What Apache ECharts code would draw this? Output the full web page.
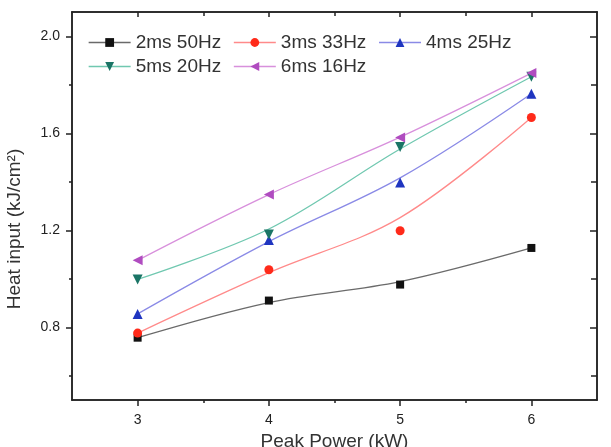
<!DOCTYPE html>
<html>
<head>
<meta charset="utf-8">
<script src="https://cdn.jsdelivr.net/npm/echarts@6/dist/echarts.min.js"></script>
<style>
  html, body { margin: 0; padding: 0; background: #fff; }
  #chart { width: 611px; height: 447px; }
</style>
</head>
<body>
<div id="chart"></div>
<script>
// data
var power = [3, 4, 5, 6];
var names = ['2ms 50Hz', '3ms 33Hz', '4ms 25Hz', '5ms 20Hz', '6ms 16Hz'];
// measured points (markers)
var heat2ms = [0.757, 0.910, 0.976, 1.127];
var heat3ms = [0.776, 1.037, 1.198, 1.665];
var heat4ms = [0.855, 1.160, 1.397, 1.763];
var heat5ms = [0.997, 1.182, 1.543, 1.833];
var heat6ms = [1.076, 1.347, 1.582, 1.848];
// fitted curves as drawn in the figure
var fit2ms = [0.757, 0.902, 0.988, 1.127];
var fit3ms = [0.776, 1.025, 1.252, 1.665];
var fit4ms = [0.855, 1.153, 1.416, 1.763];
var fit5ms = [0.997, 1.205, 1.535, 1.833];
var fit6ms = [1.076, 1.347, 1.584, 1.848];
// tick labels
var xMajor = [3, 4, 5, 6];
var xMinor = [3.5, 4.5, 5.5];
var yMajor = [0.8, 1.2, 1.6, 2.0];
var yMinor = [0.6, 1.0, 1.4, 1.8];

var markerColors = ['#111111', '#ff2a1a', '#1f35c0', '#1b7566', '#b04cc0'];
var lineColors = ['#6a6a6a', '#ff8a8a', '#8a8ae6', '#70c8b0', '#d890dc'];
var symbols = ['rect', 'circle', 'triangle', 'triangle', 'triangle'];
var rotates = [0, 0, 0, 180, 90];
var sizes = [8, 9, 10, 10, 10];
var heats = [heat2ms, heat3ms, heat4ms, heat5ms, heat6ms];
var fits = [fit2ms, fit3ms, fit4ms, fit5ms, fit6ms];

var font = "'Liberation Sans', Arial, sans-serif";
var chart = echarts.init(document.getElementById('chart'));

function pairs(ys) {
    return power.map(function (x, i) { return [x, ys[i]]; });
}

var series = [];
fits.forEach(function (f, i) {
    series.push({
        name: names[i] + ' fit',
        type: 'line',
        data: pairs(f),
        smooth: 0.35,
        symbol: 'none',
        silent: true,
        z: 1,
        xAxisIndex: 0, yAxisIndex: 0,
        lineStyle: { color: lineColors[i], width: 1.3 }
    });
});
heats.forEach(function (h, i) {
    series.push({
        name: names[i],
        type: 'line',
        data: pairs(h),
        symbol: symbols[i],
        symbolSize: sizes[i],
        symbolRotate: rotates[i],
        z: 3,
        xAxisIndex: 0, yAxisIndex: 0,
        itemStyle: { color: markerColors[i] },
        lineStyle: { color: lineColors[i], width: 1.3, opacity: 0 }
    });
});

function legendItems(list) {
    return list.map(function (i) {
        return { name: names[i], lineStyle: { color: lineColors[i], width: 1.3, opacity: 1 } };
    });
}

var legendBase = {
    left: 88,
    padding: 0,
    itemWidth: 42,
    itemHeight: 11,
    itemGap: 12,
    selectedMode: false,
    textStyle: { fontFamily: font, fontSize: 19, color: '#333', width: 87 }
};

var grid = { left: 72, right: 14, top: 12, bottom: 47, outerBoundsMode: 'none', containLabel: false };
var axisLineStyle = { color: '#222', width: 1.5 };

function xAx(pos, ticks, len, inside, labels, extra) {
    return Object.assign({
        type: 'value', min: 2.5, max: 6.5, position: pos,
        axisLine: { show: true, onZero: false, lineStyle: axisLineStyle },
        axisTick: { show: true, inside: inside, length: len, customValues: ticks, lineStyle: { color: '#222', width: 1.5 } },
        axisLabel: labels ? {
            customValues: labels, margin: 13, color: '#222',
            fontFamily: font, fontSize: 14,
            formatter: function (v) { return String(v); }
        } : { show: false },
        splitLine: { show: false }
    }, extra || {});
}

function yAx(pos, ticks, len, inside, labels) {
    return {
        type: 'value', min: 0.5, max: 2.1, position: pos,
        axisLine: { show: true, onZero: false, lineStyle: axisLineStyle },
        axisTick: { show: true, inside: inside, length: len, customValues: ticks, lineStyle: { color: '#222', width: 1.5 } },
        axisLabel: labels ? {
            customValues: labels, margin: 12, color: '#222',
            fontFamily: font, fontSize: 14,
            formatter: function (v) { return v.toFixed(1); }
        } : { show: false },
        splitLine: { show: false }
    };
}

var option = {
    backgroundColor: '#fff',
    animation: false,
    grid: grid,
    legend: [
        Object.assign({ top: 33, data: legendItems([0, 1, 2]) }, legendBase),
        Object.assign({ top: 57, data: legendItems([3, 4]) }, legendBase)
    ],
    xAxis: [
        xAx('bottom', xMajor, 6, false, xMajor, {
            name: 'Peak Power (kW)', nameLocation: 'middle', nameGap: 30,
            nameTextStyle: { fontFamily: font, fontSize: 19, color: '#333' }
        }),
        xAx('bottom', xMinor, 3, false, null),
        xAx('top', xMajor, 5, true, null),
        xAx('top', xMinor, 4, true, null)
    ],
    yAxis: [
        yAx('left', yMajor, 6, false, yMajor),
        yAx('left', yMinor, 3, false, null),
        yAx('right', yMajor, 7, true, null),
        yAx('right', yMinor, 6, true, null)
    ],
    graphic: [{
        type: 'text',
        x: 15, y: 229,
        rotation: Math.PI / 2,
        style: {
            text: 'Heat input (kJ/cm²)',
            fontFamily: font, fontSize: 19, fill: '#333',
            align: 'center', verticalAlign: 'middle'
        }
    }],
    series: series
};

chart.setOption(option);
</script>
</body>
</html>
